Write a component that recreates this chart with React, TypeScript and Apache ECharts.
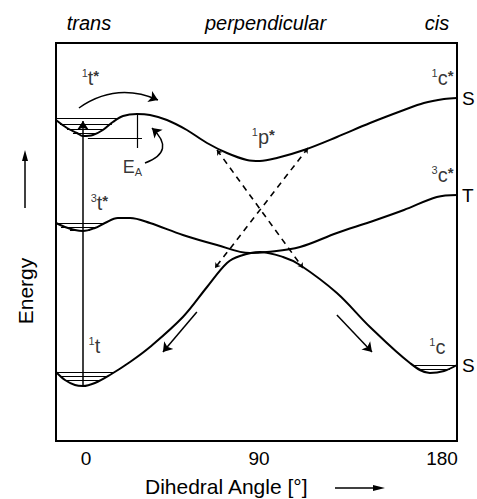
import React, { useEffect, useRef } from "react";
import * as echarts from "echarts";

// Dihedral angle [deg] vs energy (arbitrary units)
const xTickValues = [0, 90, 180];
const xTickLabels = ["0", "90", "180"];
const conformerNames = ["trans", "perpendicular", "cis"];
const stateNames = ["S", "T", "S"];

const S1: [number, number][] = [
  [-13.5, 321], [-8.0, 313], [-3.0, 308], [0, 305], [5.0, 306], [10.0, 311], [15.0, 319],
  [20.1, 325], [27.1, 327], [33.6, 326], [42.1, 321], [52.1, 311], [62.2, 298], [72.2, 288],
  [82.2, 281], [88.7, 280], [97.2, 283], [110.8, 291], [127.3, 304], [143.9, 318],
  [160.9, 331], [170.9, 338], [181.0, 342], [187.5, 343],
];
const T1: [number, number][] = [
  [-13.5, 218], [-9.0, 214], [-4.0, 211], [0, 210], [6.0, 213], [11.0, 218], [17.5, 223],
  [23.6, 223], [33.6, 218], [50.1, 206], [67.2, 196], [83.7, 188], [92.2, 189], [108.8, 194],
  [127.3, 208], [143.9, 219], [160.9, 231], [177.4, 244], [187.5, 246],
];
const S0: [number, number][] = [
  [-13.5, 69], [-9.0, 61], [-4.0, 56], [0, 55], [6.0, 58], [13.5, 66], [23.6, 79], [33.6, 94],
  [50.1, 124], [62.2, 154], [72.2, 178], [78.7, 185], [88.7, 189], [100.3, 184], [108.8, 176],
  [127.3, 148], [143.9, 114], [163.9, 78], [173.9, 68], [181.0, 70], [187.5, 76],
];

// diabatic (dashed) correlation lines: [start, end]
const diabatic: [number, number][][] = [
  [[67.2, 291], [110.3, 173]],
  [[112.8, 293], [66.2, 173]],
];

// vibrational levels: [angleFrom, angleTo, energy]
const levels: [number, number, number][] = [
  [-13.0, 17.0, 323], [-11.5, 14.5, 317], [-8.0, 10.0, 312], [-5.0, 7.0, 308],
  [-13.0, 11.0, 218], [-11.0, 7.0, 214], [-6.5, 3.5, 211],
  [-13.5, 16.0, 69], [-11.3, 12.5, 65], [-9.0, 8.8, 61],
  [165.0, 187.5, 76], [169.0, 184.0, 72],
];

// activation barrier marker segments
const barrier: [number, number][][] = [
  [[27.1, 328], [27.1, 293]],
  [[2.5, 303], [29.6, 303]],
];

// arrows: [start, end, curveness]
const arrows: [[number, number], [number, number], number][] = [
  [[0, 56], [0, 320], 0],
  [[-2.0, 333], [37.6, 341], 0.28],
  [[31.1, 278], [34.6, 313], -0.8],
  [[57.1, 129], [40.1, 89], 0],
  [[127.3, 126], [144.9, 89], 0],
];

// state labels: [angle, energy, rich text]
const stateLabels: [number, number, string][] = [
  [4.0, 363, "{s|1}{m|t}{a|*}"],
  [25.1, 274, "{e|E}{sub|A}"],
  [8.5, 238, "{s|3}{m|t}{a|*}"],
  [90.7, 304, "{s|1}{m|p}{a|*}"],
  [180.5, 363, "{s|1}{m|c}{a|*}"],
  [180.5, 266, "{s|3}{m|c}{a|*}"],
  [6.0, 95, "{s|1}{m|t}"],
  [177.9, 94, "{s|1}{m|c}"],
];

const FONT = "'Liberation Sans', Arial, Helvetica, sans-serif";

export default function App() {
  const ref = useRef<HTMLDivElement>(null);
  useEffect(() => {
    document.body.style.margin = "0";
    const chart = echarts.init(ref.current!, undefined, { renderer: "svg" });
    const black = "#000";
    const tok = { fontFamily: FONT, color: black, textBorderWidth: 0, textBorderColor: "transparent" };
    const curve = (data: [number, number][], name: string) => ({
      type: "line",
      data,
      smooth: 0.35,
      symbol: "none",
      lineStyle: { color: black, width: 2 },
      endLabel: {
        show: true,
        formatter: name,
        distance: 5,
        fontFamily: FONT,
        fontSize: 19,
        color: black,
      },
      z: 3,
    });
    const bottomTok = { fontFamily: FONT, fontSize: 19, color: black };
    const topTok = { fontFamily: FONT, fontSize: 20, fontStyle: "italic", color: black };
    chart.setOption({
      animation: false,
      backgroundColor: "#fff",
      color: [black],
      textStyle: { fontFamily: FONT, color: black },
      grid: {
        left: 56,
        right: 20,
        top: 43,
        bottom: 58,
        show: true,
        borderColor: black,
        borderWidth: 2,
        backgroundColor: "transparent",
      },
      xAxis: [
        {
          type: "value",
          min: -13.5,
          max: 187.5,
          position: "bottom",
          axisLine: { show: false },
          axisTick: { show: false },
          splitLine: { show: false },
          axisLabel: {
            customValues: xTickValues,
            formatter: (v: number) => {
              const i = xTickValues.indexOf(v);
              return `{b${i}|${xTickLabels[i] ?? ""}}`;
            },
            color: black,
            fontFamily: FONT,
            fontSize: 19,
            margin: 8,
            rich: {
              b0: { ...bottomTok, padding: [0, 0, 0, 6] },
              b1: { ...bottomTok, padding: [0, 7, 0, 0] },
              b2: { ...bottomTok },
            },
          },
        },
        {
          type: "value",
          min: -13.5,
          max: 187.5,
          position: "top",
          axisLine: { show: false },
          axisTick: { show: false },
          splitLine: { show: false },
          axisLabel: {
            customValues: xTickValues,
            formatter: (v: number) => {
              const i = xTickValues.indexOf(v);
              return `{t${i}|${conformerNames[i] ?? ""}}`;
            },
            color: black,
            fontFamily: FONT,
            fontStyle: "italic",
            fontSize: 20,
            margin: 10,
            rich: {
              t0: { ...topTok, padding: [0, 0, 0, 12] },
              t1: { ...topTok, padding: [0, 0, 0, 6] },
              t2: { ...topTok, padding: [0, 10, 0, 0] },
            },
          },
        },
      ],
      yAxis: {
        type: "value",
        min: 0,
        max: 398,
        show: false,
        splitLine: { show: false },
      },
      graphic: [
        {
          type: "text",
          x: 25.5,
          y: 291,
          rotation: Math.PI / 2,
          style: {
            text: "Energy",
            fontFamily: FONT,
            fontSize: 21,
            fill: black,
            align: "center",
            verticalAlign: "middle",
          },
        },
        { type: "line", shape: { x1: 25, y1: 208, x2: 25, y2: 158 }, style: { stroke: black, lineWidth: 1.5 } },
        { type: "polygon", shape: { points: [[25, 150], [22, 161], [28, 161]] }, style: { fill: black } },
        {
          type: "text",
          x: 145,
          y: 486.5,
          style: {
            text: "Dihedral Angle [°]",
            fontFamily: FONT,
            fontSize: 21,
            fill: black,
            align: "left",
            verticalAlign: "middle",
          },
        },
        { type: "line", shape: { x1: 335, y1: 488, x2: 376, y2: 488 }, style: { stroke: black, lineWidth: 1.5 } },
        { type: "polygon", shape: { points: [[385, 488], [373, 485], [373, 491]] }, style: { fill: black } },
      ],
      series: [
        curve(S1, stateNames[0]),
        curve(T1, stateNames[1]),
        curve(S0, stateNames[2]),
        {
          type: "lines",
          coordinateSystem: "cartesian2d",
          symbol: ["arrow", "arrow"],
          symbolSize: 5,
          lineStyle: { color: black, width: 1.6, type: [6, 5], opacity: 1 },
          data: diabatic.map((c) => ({ coords: c })),
          z: 2,
        },
        {
          type: "lines",
          coordinateSystem: "cartesian2d",
          symbol: "none",
          lineStyle: { color: black, width: 1.2, opacity: 1 },
          data: [...levels.map((l) => ({ coords: [[l[0], l[2]], [l[1], l[2]]] })), ...barrier.map((c) => ({ coords: c }))],
          z: 2,
        },
        {
          type: "lines",
          coordinateSystem: "cartesian2d",
          symbol: ["none", "arrow"],
          symbolSize: 9,
          lineStyle: { color: black, width: 1.5, opacity: 1 },
          data: arrows.map((a) => ({ coords: [a[0], a[1]], lineStyle: { curveness: a[2] } })),
          z: 4,
        },
        {
          type: "scatter",
          symbolSize: 1,
          color: black,
          itemStyle: { color: "transparent" },
          data: stateLabels.map((l) => [l[0], l[1]]),
          label: {
            show: true,
            position: [0, 0],
            align: "center",
            verticalAlign: "middle",
            formatter: (p: any) => stateLabels[p.dataIndex][2],
            ...tok,
            rich: {
              s: { fontSize: 11, lineHeight: 11, verticalAlign: "top", ...tok },
              m: { fontSize: 20, lineHeight: 20, ...tok },
              a: { fontSize: 15, lineHeight: 15, fontWeight: "bold", verticalAlign: "top", ...tok },
              e: { fontSize: 18, lineHeight: 18, verticalAlign: "top", ...tok },
              sub: { fontSize: 11, lineHeight: 11, padding: [9, 0, 0, 0], verticalAlign: "top", ...tok },
            },
          },
          z: 5,
        },
      ],
    });
    return () => chart.dispose();
  }, []);
  return <div ref={ref} style={{ width: 477, height: 499 }} />;
}
